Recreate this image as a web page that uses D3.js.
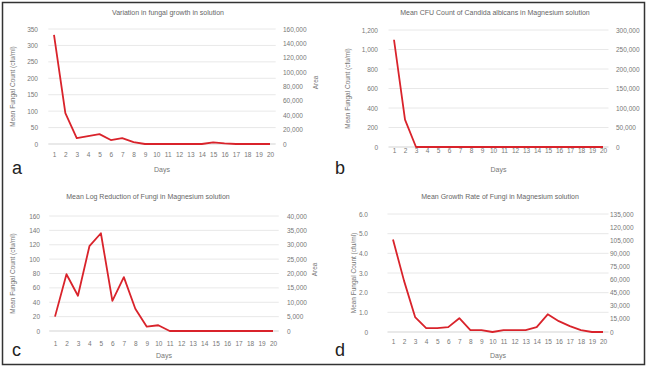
<!DOCTYPE html>
<html><head><meta charset="utf-8">
<script src="https://cdn.jsdelivr.net/npm/d3@7"></script>
<style>html,body{margin:0;padding:0;background:#fff;}svg{display:block;font-family:"Liberation Sans",Arial,sans-serif;}</style>
</head><body>
<svg id="chart" width="647" height="369"></svg>
<script>
const days = [1,2,3,4,5,6,7,8,9,10,11,12,13,14,15,16,17,18,19,20];
const titles = [
  "Variation in fungal growth in solution",
  "Mean CFU Count of Candida albicans in Magnesium solution",
  "Mean Log Reduction of Fungi in Magnesium solution",
  "Mean Growth Rate of Fungi in Magnesium solution"
];
const panelLetters = ["a","b","c","d"];
const seriesA = [332,94,18,24,30,12,18,6,0,0,0,0,0,0,5,2,0,0,0,0];
const seriesB = [1100,280,0,0,0,0,0,0,0,0,0,0,0,0,0,0,0,0,0,0];
const seriesC = [20,79,49,118,136,42,75,31,6,8,0,0,0,0,0,0,0,0,0,0];
const seriesD = [4.7,2.6,0.76,0.2,0.2,0.25,0.7,0.1,0.1,0,0.1,0.1,0.1,0.25,0.9,0.55,0.3,0.1,0,0];
const leftTicksA = [0,50,100,150,200,250,300,350];
const leftTicksB = [0,200,400,600,800,1000,1200];
const leftTicksC = [0,20,40,60,80,100,120,140,160];
const leftTicksD = [0,1,2,3,4,5,6];
const rightTicksA = [0,20000,40000,60000,80000,100000,120000,140000,160000];
const rightTicksB = [0,50000,100000,150000,200000,250000,300000];
const rightTicksC = [0,5000,10000,15000,20000,25000,30000,35000,40000];
const rightTicksD = [0,15000,30000,45000,60000,75000,90000,105000,120000,135000];
const leftTitle = "Mean Fungal Count (cfu/ml)";
const rightTitle = "Area";
const xTitle = "Days";

const svg = d3.select("#chart");
const comma = d3.format(",");

const panels = [
  {s:seriesA, lt:leftTicksA, rt:rightTicksA, lf:d=>comma(d), x0:54, x1:270, yb:144, yt:29, lblL:38, lblR:283, tickY:157, titleX:168, titleY:15, xt:172, letter:[12,174], lTitleX:15, rTitleX:318},
  {s:seriesB, lt:leftTicksB, rt:rightTicksB, lf:d=>comma(d), x0:394, x1:603, yb:147, yt:30, lblL:378, lblR:616, tickY:153, titleX:495, titleY:15, xt:172, letter:[335,174], lTitleX:350, rTitleX:null},
  {s:seriesC, lt:leftTicksC, rt:rightTicksC, lf:d=>comma(d), x0:55, x1:273, yb:331, yt:216, lblL:40, lblR:287, tickY:346, titleX:148, titleY:199, xt:358, letter:[12,356], lTitleX:15, rTitleX:317},
  {s:seriesD, lt:leftTicksD, rt:rightTicksD, lf:d=>d===0?"0":d3.format(".1f")(d), x0:393, x1:603, yb:332, yt:214, lblL:368, lblR:610, tickY:344, titleX:500, titleY:199, xt:358, letter:[335,356], lTitleX:356, rTitleX:null}
];

panels.forEach((p,i)=>{
  const g = svg.append("g");
  const x = d3.scalePoint().domain(days).range([p.x0,p.x1]);
  const step = x.step();
  const yL = d3.scaleLinear().domain([0,d3.max(p.lt)]).range([p.yb,p.yt]);
  const yR = d3.scaleLinear().domain([0,d3.max(p.rt)]).range([p.yb,p.yt]);
  const left = p.x0 - step/2, right = p.x1 + step/2;
  // gridlines
  g.selectAll(".grid").data(p.lt).enter().append("line")
    .attr("x1",left).attr("x2",right)
    .attr("y1",d=>yL(d)).attr("y2",d=>yL(d))
    .attr("stroke",d=>d===0?"#c8c8c8":"#e2e2e2").attr("stroke-width",0.8);
  // left axis
  const la = d3.axisLeft(yL).tickValues(p.lt).tickFormat(p.lf).tickSize(0).tickPadding(0);
  const lag = g.append("g").attr("transform",`translate(${p.lblL},0)`).call(la);
  lag.select(".domain").remove();
  lag.selectAll("text").attr("font-size",6.5).attr("fill","#777");
  // right axis
  const ra = d3.axisRight(yR).tickValues(p.rt).tickFormat(d=>comma(d)).tickSize(0).tickPadding(0);
  const rag = g.append("g").attr("transform",`translate(${p.lblR},0)`).call(ra);
  rag.select(".domain").remove();
  rag.selectAll("text").attr("font-size",6.5).attr("fill","#777");
  // bottom axis
  const ba = d3.axisBottom(x).tickSize(0).tickPadding(0);
  const bag = g.append("g").attr("transform",`translate(0,${p.tickY-5})`).call(ba);
  bag.select(".domain").remove();
  bag.selectAll("text").attr("font-size",6.5).attr("fill","#777");
  // line
  const line = d3.line().x((d,j)=>x(days[j])).y(d=>yL(d));
  g.append("path").datum(p.s).attr("d",line).attr("fill","none")
    .attr("stroke","#d9232b").attr("stroke-width",1.8).attr("stroke-linejoin","round");
  // titles
  g.append("text").attr("x",p.titleX).attr("y",p.titleY).attr("text-anchor","middle")
    .attr("font-size",7).attr("fill","#666").text(titles[i]);
  g.append("text").attr("x",(p.x0+p.x1)/2).attr("y",p.xt).attr("text-anchor","middle")
    .attr("font-size",7).attr("fill","#777").text(xTitle);
  g.append("text").attr("transform",`translate(${p.lTitleX},${(p.yb+p.yt)/2}) rotate(-90)`)
    .attr("text-anchor","middle").attr("font-size",6.5).attr("fill","#777").text(leftTitle);
  if(p.rTitleX!==null){
    g.append("text").attr("transform",`translate(${p.rTitleX},${(p.yb+p.yt)/2 - 4}) rotate(-90)`)
      .attr("text-anchor","middle").attr("font-size",6.5).attr("fill","#777").text(rightTitle);
  }
  g.append("text").attr("x",p.letter[0]).attr("y",p.letter[1]).attr("font-size",18)
    .attr("fill","#222").text(panelLetters[i]);
});

svg.append("rect").attr("x",2.5).attr("y",2.5).attr("width",642).attr("height",362)
  .attr("fill","none").attr("stroke","#333").attr("stroke-width",1.5);
</script>
</body></html>
